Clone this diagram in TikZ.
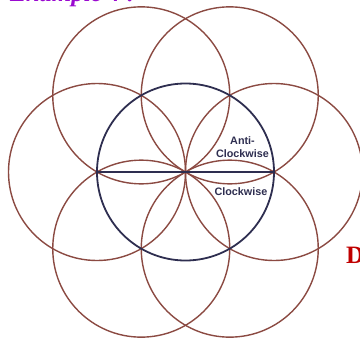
\documentclass[tikz,border=0pt]{standalone}
\usepackage{fontspec}
\setmainfont{Liberation Serif}
\setsansfont{Liberation Sans}
\usetikzlibrary{calc,positioning}
\definecolor{petalc}{HTML}{8B4A42}
\definecolor{navyc}{HTML}{2E2E50}
\definecolor{titlec}{HTML}{9A0AD0}
\definecolor{headc}{HTML}{C00000}

\begin{document}
\begin{tikzpicture}[x=1pt, y=-1pt,
  petal/.style={draw=petalc, line width=1.4pt},
  rim/.style={draw=navyc, line width=1.8pt},
  lbl/.style={text=navyc, font=\sffamily\bfseries\fontsize{10.8}{13}\selectfont, align=center}]
  \useasboundingbox (0,0) rectangle (360,338);
  \clip (0,0) rectangle (360,338);

  % Centre of the flower
  \coordinate (O) at (185.5,172);

  % Six outer circles
  \foreach \a in {0,60,...,300}
    \draw[petal] ($(O)+(\a:88.5pt)$) circle[radius=88.5pt];

  % Central circle and diameter
  \draw[rim] (O) circle[radius=88.5pt];
  \coordinate (L) at ($(O)+(-88.5pt,0)$);
  \coordinate (R) at ($(O)+(88.5pt,0)$);
  \draw[rim] (L) -- (R);

  % Labels
  \node[lbl] (anti) at (242.5,147) {Anti-\\Clockwise};
  \node[lbl] (cw) at (241,191.5) {Clockwise};

  % Cut-off headings
  \node[anchor=base west, inner sep=0, text=titlec,
    font=\bfseries\itshape\fontsize{25}{30}\selectfont] (title) at (10,1.5) {Example 4 :};
  \node[anchor=base west, inner sep=0, text=headc,
    font=\bfseries\fontsize{25}{30}\selectfont] (head) at (346,263) {D};
\end{tikzpicture}
\end{document}
